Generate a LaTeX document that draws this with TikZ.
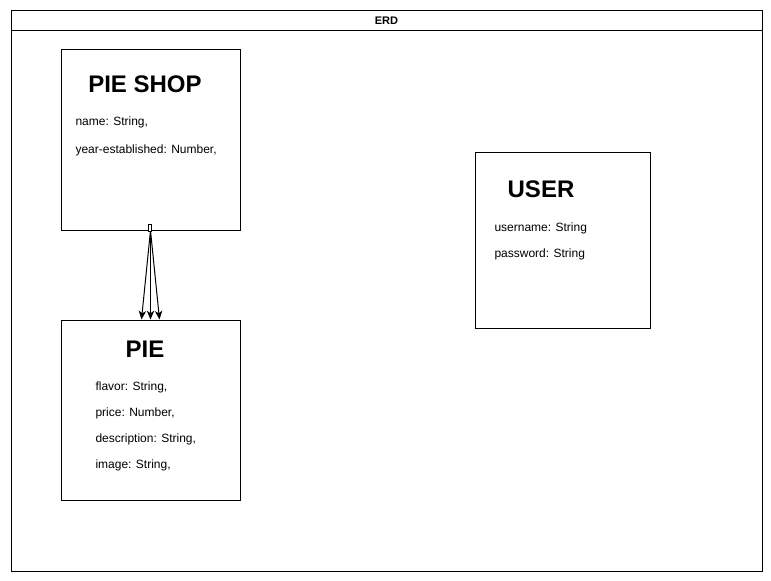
\documentclass[tikz,border=0pt]{standalone}
\usepackage{fontspec}
\setmainfont{Liberation Sans}
\usetikzlibrary{arrows.meta}

\begin{document}
\begin{tikzpicture}[x=0.75pt, y=-0.75pt, line width=0.75pt,
    entity/.style={draw, inner sep=0pt},
    title/.style={anchor=base, inner sep=0pt, font=\fontsize{18}{18}\selectfont\bfseries},
    attr/.style={anchor=base west, inner sep=0pt, font=\fontsize{9}{9}\selectfont},
    link/.style={-{Stealth[length=6.5pt, width=5.5pt, inset=1.8pt]}}]
  \useasboundingbox (0,0) rectangle (771,581);

  \draw (11,11) rectangle (762,571);
  \draw (11,31) -- (762,31);
  \node[anchor=base, inner sep=0pt, font=\fontsize{8.25}{8.25}\selectfont\bfseries] (erd) at (386.5,25) {ERD};

  \node[entity, minimum width=134.25pt, minimum height=135pt] (pieshop) at (150.5,140) {};
  \node[title] (pieshop title) at (145,93) {PIE SHOP};
  \node[attr] (pieshop name) at (75,126) {name: String,};
  \node[attr] (pieshop year) at (75,154) {year-established: Number,};

  \node[entity, minimum width=134.25pt, minimum height=135pt] (pie) at (150.5,410) {};
  \node[title] (pie title) at (145,357) {PIE};
  \foreach \attrtext [count=\i from 0, evaluate=\i as \y using 390+26*\i]
  in {{flavor: String,}, {price: Number,}, {description: String,}, {image: String,}}
  {
      \node[attr] (pie attr \i) at (95,\y) {\attrtext};
  }

  \node[entity, minimum width=131.25pt, minimum height=131.25pt] (user) at (562.5,240.5) {};
  \node[title] (user title) at (541,198) {USER};
  \node[attr] (user name) at (494,231) {username: String};
  \node[attr] (user pass) at (494,257) {password: String};

  \foreach \dx in {-9,0,9}
  {
      \draw[link] (pieshop.south) -- ([xshift=\dx*0.75pt]pie.north);
  }
  \node[draw, fill=white, inner sep=0pt, line width=0.5pt,
        minimum width=2.25pt, minimum height=5pt] (pieshop port) at (150,228) {};

\end{tikzpicture}
\end{document}
